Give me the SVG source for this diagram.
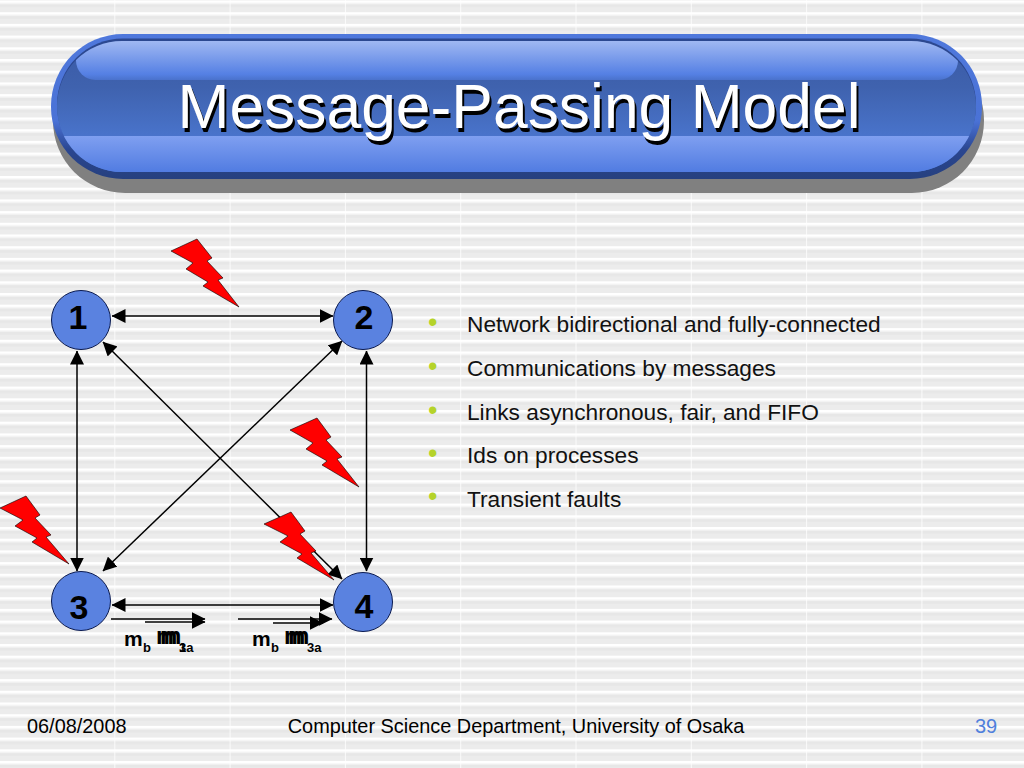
<svg xmlns="http://www.w3.org/2000/svg" width="1024" height="768" viewBox="0 0 1024 768">
<style>
.n{fill:#5a82e0;stroke:#0a1a50;stroke-width:1}
.nt{font:bold 34px "Liberation Sans",Arial,sans-serif;text-anchor:middle;fill:#000}
.c{stroke:#000;stroke-width:1.5;fill:none;marker-start:url(#a);marker-end:url(#a)}
.o{stroke:#000;stroke-width:1.5;fill:none;marker-end:url(#a)}
.b{fill:#f00;stroke:#000;stroke-width:.6}
.t{font:22.7px "Liberation Sans",Arial,sans-serif;fill:#111}
.d{fill:#b5d32a;font:27px "Liberation Sans",Arial,sans-serif}
.f{font:19.9px "Liberation Sans",Arial,sans-serif;fill:#000}
.m{font:bold 21px "Liberation Sans",Arial,sans-serif;fill:#000}
.k{font:bold 24px "Liberation Sans",Arial,sans-serif;fill:#000}
.s{font:bold 13px "Liberation Sans",Arial,sans-serif;fill:#000}
.h{font:62.4px "Liberation Sans",Arial,sans-serif;text-anchor:middle}
</style>
<defs>
<marker id="a" markerWidth="14" markerHeight="14" refX="13.5" refY="7" orient="auto-start-reverse" markerUnits="userSpaceOnUse"><path d="M0 0L14 7L0 14z" fill="#000"/></marker>
<pattern id="bg" width="115.3" height="11.7" patternUnits="userSpaceOnUse" y="0.5"><rect width="115.3" height="11.7" fill="#e7e7e7"/><rect width="115.3" height="1" y="2.6" fill="#f6f6f6"/><rect width="115.3" height="2.6" fill="#fff"/><rect y="6.5" width="115.3" height="5.2" fill="#ececec"/><rect x="114.5" width="1.6" height="11.7" fill="#fff"/></pattern>
<linearGradient id="g0" x1="0" y1="0" x2="0" y2="1"><stop offset="0" stop-color="#4f78dc"/><stop offset=".6" stop-color="#4a72d6"/><stop offset=".8" stop-color="#2a4690"/><stop offset="1" stop-color="#26407f"/></linearGradient>
<linearGradient id="g1" x1="0" y1="0" x2="0" y2="1"><stop offset="0" stop-color="#3a5aa6"/><stop offset=".35" stop-color="#3f62ae"/><stop offset="1" stop-color="#5080e0"/></linearGradient>
<linearGradient id="g2" x1="0" y1="0" x2="0" y2="1"><stop offset="0" stop-color="#a0b8f2"/><stop offset=".85" stop-color="#5580e4"/><stop offset="1" stop-color="#4a72cc"/></linearGradient>
<linearGradient id="g3" x1="0" y1="0" x2="0" y2="1"><stop offset="0" stop-color="#7f9ff0"/><stop offset="1" stop-color="#4c78e0"/></linearGradient>
<clipPath id="ic"><rect x="57" y="41" width="919" height="131" rx="65"/></clipPath>
</defs>
<rect width="1024" height="768" fill="url(#bg)"/>
<g id="title">
<rect x="53" y="48" width="931" height="145" rx="72" fill="#808080"/>
<rect x="51" y="34" width="931" height="145" rx="72" fill="url(#g0)"/>
<rect x="57" y="38.500" width="919" height="133" rx="66" fill="#2c4890"/>
<rect x="57" y="41" width="919" height="131" rx="65" fill="url(#g1)"/>
<g clip-path="url(#ic)">
<rect x="76" y="41" width="882" height="39" rx="19.500" fill="url(#g2)"/>
<rect x="40" y="136" width="950" height="40" fill="url(#g3)"/>
</g>
<text class="h" x="521" y="132" fill="#000">Message-Passing Model</text>
<text class="h" x="519" y="127.500" fill="#fff">Message-Passing Model</text>
</g>
<g id="connectors">
<path class="c" d="M112 316H333"/>
<path class="c" d="M77 351V571"/>
<path class="c" d="M366.500 351V571"/>
<path class="c" d="M342 341L103 571"/>
<path class="c" d="M103 342L342 579"/>
<path class="c" d="M112 605H333"/>
<path class="o" d="M111 619H205"/>
<path class="o" d="M145 622H205"/>
<path class="o" d="M238 619H332"/>
<path class="o" d="M273 623H323"/>
</g>
<g id="node1"><circle class="n" cx="81" cy="320" r="29.500"/><text class="nt" x="78" y="329">1</text></g>
<g id="node2"><circle class="n" cx="363" cy="320" r="29.500"/><text class="nt" x="364" y="329">2</text></g>
<g id="node3"><circle class="n" cx="81" cy="601" r="29.500"/><text class="nt" x="79" y="619">3</text></g>
<g id="node4"><circle class="n" cx="363" cy="602" r="29.500"/><text class="nt" x="364" y="618">4</text></g>
<g id="bolts">
<path class="b" d="M171 251L197 239L212 258L207 261L223 278L218 280L239 307L203 286L208 282L186 269L193 263Z"/>
<path class="b" d="M290 430L317 418L331 437L326 440L342 457L337 459L359 487L322 465L327 461L306 449L313 443Z"/>
<path class="b" d="M264 524L291 512L305 531L300 534L316 551L311 553L334 580L297 558L302 554L280 542L288 536Z"/>
<path class="b" d="M0 508L26 496L40 515L35 518L51 535L46 537L69 564L32 542L37 538L15 526L23 520Z"/>
</g>
<g id="messages">
<text class="m" x="124" y="646">m</text><text class="s" x="143" y="652">b</text>
<text class="k" x="156" y="644">m</text><text class="k" x="160" y="644">m</text><text class="s" x="179" y="652">3a</text><text class="s" x="179" y="652">1</text>
<text class="m" x="252" y="646">m</text><text class="s" x="271" y="652">b</text>
<text class="k" x="284" y="644">m</text><text class="k" x="288" y="644">m</text><text class="s" x="307" y="652">3a</text>
</g>
<g id="bullets">
<text class="d" x="428" y="331">•</text><text class="t" x="467" y="332">Network bidirectional and fully-connected</text>
<text class="d" x="428" y="375">•</text><text class="t" x="467" y="376">Communications by messages</text>
<text class="d" x="428" y="419">•</text><text class="t" x="467" y="420">Links asynchronous, fair, and FIFO</text>
<text class="d" x="428" y="462">•</text><text class="t" x="467" y="463">Ids on processes</text>
<text class="d" x="428" y="505">•</text><text class="t" x="467" y="507">Transient faults</text>
</g>
<g id="footer">
<text class="f" x="27" y="733">06/08/2008</text>
<text class="f" x="516" y="733" text-anchor="middle">Computer Science Department, University of Osaka</text>
<text x="986" y="733" text-anchor="middle" font-family="Liberation Sans,Arial,sans-serif" font-size="20" fill="#4f7fdc">39</text>
</g>
</svg>
